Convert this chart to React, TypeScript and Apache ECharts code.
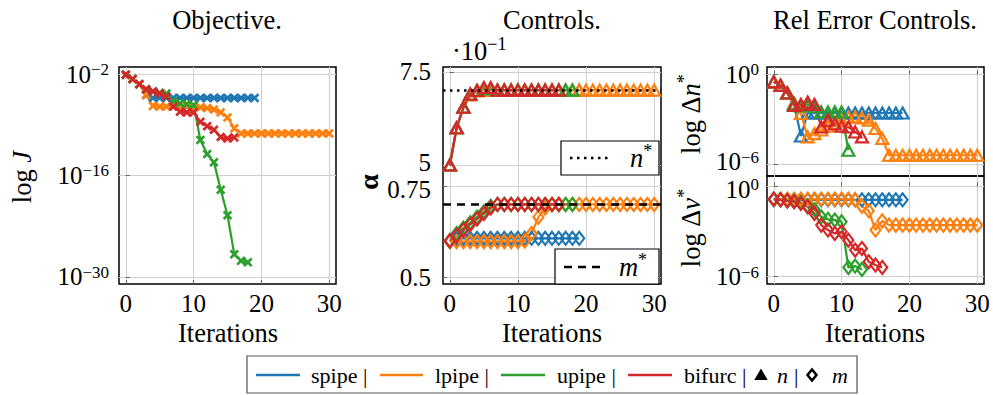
import React, { useEffect, useRef } from "react";
import * as echarts from "echarts";

const FONT = "Liberation Serif";
const C_SPIPE = "#1f77b4";
const C_LPIPE = "#ff7f0e";
const C_UPIPE = "#2ca02c";
const C_BIFURC = "#d62728";

// tick values
const iterTicks = [0, 10, 20, 30];
const objTicks = [-30, -16, -2];
const relTicks = [-6, 0];
const ctrlTicks = [0.5, 0.75];

// Objective: log10 J per iteration
const logJ_spipe = [-2.1, -2.7, -3.4, -4.9, -5.3, -5.3, -5.3, -5.3, -5.3, -5.3, -5.3, -5.3, -5.3, -5.3, -5.3, -5.3, -5.3, -5.3, -5.3, -5.3];
const logJ_lpipe = [-2.1, -2.7, -3.4, -4.9, -6.4, -6.5, -6.5, -6.5, -6.5, -6.5, -6.5, -6.6, -6.7, -6.9, -7.3, -8.0, -9.5, -10.2, -10.2, -10.2, -10.2, -10.2, -10.2, -10.2, -10.2, -10.2, -10.2, -10.2, -10.2, -10.2, -10.2];
const logJ_upipe = [-2.1, -2.7, -3.4, -4.1, -4.4, -4.6, -4.7, -5.8, -6.05, -6.15, -6.3, -11.1, -13.05, -14.2, -18.0, -21.5, -26.9, -27.8, -28.0];
const logJ_bifurc = [-2.1, -2.7, -3.4, -4.1, -4.4, -4.7, -5.1, -6.5, -7.2, -7.3, -7.3, -8.6, -9.2, -9.7, -10.7, -10.9, -10.75];

// Controls: n (shown x 10^-1) and m
const n_spipe = [0.5, 0.6, 0.655, 0.69, 0.7, 0.701, 0.701, 0.701, 0.701, 0.701, 0.701, 0.701, 0.701, 0.701, 0.701, 0.701, 0.701, 0.701, 0.701, 0.701];
const n_lpipe = [0.5, 0.6, 0.655, 0.688, 0.699, 0.701, 0.701, 0.701, 0.701, 0.701, 0.701, 0.701, 0.701, 0.701, 0.701, 0.701, 0.701, 0.701, 0.701, 0.701, 0.701, 0.701, 0.701, 0.701, 0.701, 0.701, 0.701, 0.701, 0.701, 0.701, 0.701];
const n_upipe = [0.5, 0.6, 0.655, 0.69, 0.7, 0.705, 0.705, 0.701, 0.701, 0.701, 0.701, 0.701, 0.701, 0.701, 0.701, 0.701, 0.701, 0.701, 0.701];
const n_bifurc = [0.5, 0.6, 0.655, 0.69, 0.7, 0.708, 0.708, 0.701, 0.701, 0.701, 0.701, 0.701, 0.701, 0.701, 0.701, 0.701, 0.701];
const m_spipe = [0.6, 0.607, 0.607, 0.607, 0.607, 0.607, 0.607, 0.607, 0.607, 0.607, 0.607, 0.607, 0.607, 0.607, 0.607, 0.607, 0.607, 0.607, 0.607, 0.607];
const m_lpipe = [0.598, 0.598, 0.598, 0.598, 0.598, 0.598, 0.598, 0.598, 0.598, 0.598, 0.598, 0.6, 0.62, 0.665, 0.69, 0.7, 0.7, 0.7, 0.7, 0.7, 0.7, 0.7, 0.7, 0.7, 0.7, 0.7, 0.7, 0.7, 0.7, 0.7, 0.7];
const m_upipe = [0.6, 0.62, 0.635, 0.65, 0.665, 0.68, 0.695, 0.7, 0.7, 0.7, 0.7, 0.7, 0.7, 0.7, 0.7, 0.7, 0.7, 0.7, 0.7];
const m_bifurc = [0.6, 0.615, 0.63, 0.645, 0.66, 0.675, 0.69, 0.7, 0.7, 0.7, 0.7, 0.7, 0.7, 0.7, 0.7, 0.7, 0.7];
const nStar = 0.697;
const mStar = 0.7;

// Rel error controls: log10 of relative errors
const dn_spipe = [-0.5, -0.73, -1.24, -2.0, -4.1, -2.57, -2.57, -2.57, -2.57, -2.57, -2.57, -2.57, -2.57, -2.57, -2.57, -2.57, -2.57, -2.57, -2.57, -2.57];
const dn_lpipe = [-0.5, -0.73, -1.24, -1.9, -2.6, -4.16, -3.94, -3.7, -3.45, -3.25, -3.05, -2.85, -2.83, -2.9, -3.05, -3.6, -4.27, -5.38, -5.38, -5.38, -5.38, -5.38, -5.38, -5.38, -5.38, -5.38, -5.38, -5.38, -5.38, -5.38, -5.38];
const dn_upipe = [-0.5, -0.73, -1.24, -1.95, -2.1, -2.0, -2.15, -2.5, -2.5, -2.5, -2.5, -5.05];
const dn_bifurc = [-0.5, -0.73, -1.24, -2.06, -2.0, -1.84, -2.0, -3.5, -3.05, -3.3, -3.45, -3.5, -3.83, -4.16];
const dv_spipe = [-0.88, -0.9, -0.9, -0.9, -0.9, -0.9, -0.9, -0.9, -0.9, -0.9, -0.9, -0.9, -0.9, -0.9, -0.9, -0.9, -0.9, -0.9, -0.9, -0.9];
const dv_lpipe = [-0.86, -0.86, -0.86, -0.86, -0.86, -0.86, -0.86, -0.86, -0.86, -0.86, -0.86, -0.86, -0.9, -1.32, -1.63, -2.91, -2.3, -2.58, -2.58, -2.58, -2.58, -2.58, -2.58, -2.58, -2.58, -2.58, -2.58, -2.58, -2.58, -2.58, -2.58];
const dv_upipe = [-0.86, -0.9, -0.97, -1.0, -1.1, -1.3, -1.55, -2.03, -2.2, -2.25, -2.36, -5.39, -5.3, -5.52];
const dv_bifurc = [-0.86, -0.9, -0.97, -1.03, -1.15, -1.37, -1.81, -2.58, -2.91, -3.13, -3.02, -3.58, -4.24, -4.13, -5.01, -5.23, -5.39];

const toXY = (arr: number[]) => arr.map((v, i) => [i, v]);

const X_MARK = "path://M0,2L2,0L5,3L8,0L10,2L7,5L10,8L8,10L5,7L2,10L0,8L3,5Z";

const TICK_FS = 25;
const LABEL_FS = 26.5;

const bTok = { fontFamily: FONT, fontSize: TICK_FS, lineHeight: 17, color: "#000" };
const sTok = { fontFamily: FONT, fontSize: 17, lineHeight: 9, color: "#000" };
const labelRich = {
  b: { ...bTok },
  s: { ...sTok, padding: [0, 0, 9, 0] },
  bu: { ...bTok, padding: [0, 0, 6, 0] },
  su: { ...sTok, padding: [0, 0, 15, 0] },
  bd: { ...bTok, padding: [6, 0, 0, 0] },
  sd: { ...sTok, padding: [6, 0, 9, 0] },
};
const pow = (v: number, mode = "") =>
  `{b${mode}|10}{s${mode}|${v < 0 ? "\u2212" : ""}${Math.abs(v)}}`;

const GRID_COLOR = "#d0d0d0";

function mkX(gridIndex: number, showLabels: boolean) {
  return {
    type: "value",
    gridIndex,
    min: -1,
    max: 31,
    axisLine: { show: false },
    axisTick: { show: true, inside: true, length: 4, customValues: iterTicks, lineStyle: { color: "#666" } },
    axisLabel: { show: showLabels, customValues: iterTicks, margin: 7, fontFamily: FONT, fontSize: TICK_FS, color: "#000" },
    splitLine: { show: true, lineStyle: { color: GRID_COLOR, width: 1 } },
  };
}

function mkY(gridIndex: number, min: number, max: number, ticks: number[], formatter: any, margin: number) {
  return {
    type: "value",
    gridIndex,
    position: "left",
    min,
    max,
    axisLine: { show: false },
    axisTick: { show: true, inside: true, length: 4, customValues: ticks, lineStyle: { color: "#666" } },
    axisLabel: {
      customValues: ticks,
      margin,
      formatter,
      fontFamily: FONT,
      fontSize: TICK_FS,
      lineHeight: 17,
      color: "#000",
      rich: labelRich,
    },
    splitLine: { show: true, lineStyle: { color: GRID_COLOR, width: 1 } },
  };
}

function mkSeries(data: number[], color: string, xi: number, yi: number, kind: "x" | "tri" | "dia") {
  const symbol = kind === "x" ? X_MARK : kind === "tri" ? "triangle" : "diamond";
  const symbolSize = kind === "x" ? 9.5 : kind === "tri" ? [12, 11] : [10, 13];
  return {
    type: "line",
    xAxisIndex: xi,
    yAxisIndex: yi,
    data: toXY(data),
    symbol,
    symbolSize,
    showSymbol: true,
    silent: true,
    lineStyle: { color, width: 2.2 },
    itemStyle:
      kind === "x"
        ? { color, borderWidth: 0 }
        : { color: "rgba(255,255,255,0)", borderColor: color, borderWidth: 2.2 },
    emphasis: { disabled: true },
  };
}

function txt(x: number, y: number, text: string, size = LABEL_FS, extra: any = {}, rotation = 0) {
  return {
    type: "text",
    x,
    y,
    rotation,
    z: 100,
    style: {
      text,
      fontFamily: FONT,
      fontSize: size,
      fill: "#000",
      align: "center",
      verticalAlign: "middle",
      ...extra,
    },
  };
}

const richBase = {
  r: { fontFamily: FONT, fontSize: LABEL_FS, fill: "#000" },
  i: { fontFamily: FONT, fontSize: LABEL_FS, fontStyle: "italic", fill: "#000" },
  s: { fontFamily: FONT, fontSize: 18, fill: "#000", padding: [0, 0, 14, 0] },
};

export default function App() {
  const ref = useRef<HTMLDivElement>(null);

  useEffect(() => {
    if (!ref.current) return;
    const chart = echarts.init(ref.current, null, { renderer: "svg" });

    const grids = [
      { left: 119, top: 67, width: 217, height: 217 },
      { left: 443, top: 67, width: 218, height: 217 },
      { left: 767, top: 67, width: 217, height: 109 },
      { left: 767, top: 176, width: 217, height: 108 },
    ].map((g) => ({ ...g, show: true, borderColor: "#000", borderWidth: 1.5, backgroundColor: "transparent" }));

    const starLine = (yi: number, value: number, type: any) => ({
      type: "line",
      xAxisIndex: 1,
      yAxisIndex: yi,
      data: [],
      silent: true,
      markLine: {
        silent: true,
        symbol: ["none", "none"],
        label: { show: false },
        lineStyle: { color: "#000", type, width: 2.5 },
        data: [{ yAxis: value }],
      },
    });

    const series: any[] = [
      mkSeries(logJ_spipe, C_SPIPE, 0, 0, "x"),
      mkSeries(logJ_lpipe, C_LPIPE, 0, 0, "x"),
      mkSeries(logJ_upipe, C_UPIPE, 0, 0, "x"),
      mkSeries(logJ_bifurc, C_BIFURC, 0, 0, "x"),
      starLine(1, nStar, [2.5, 4.5]),
      starLine(2, mStar, [8, 6]),
      mkSeries(n_spipe, C_SPIPE, 1, 1, "tri"),
      mkSeries(n_lpipe, C_LPIPE, 1, 1, "tri"),
      mkSeries(n_upipe, C_UPIPE, 1, 1, "tri"),
      mkSeries(n_bifurc, C_BIFURC, 1, 1, "tri"),
      mkSeries(m_spipe, C_SPIPE, 1, 2, "dia"),
      mkSeries(m_lpipe, C_LPIPE, 1, 2, "dia"),
      mkSeries(m_upipe, C_UPIPE, 1, 2, "dia"),
      mkSeries(m_bifurc, C_BIFURC, 1, 2, "dia"),
      mkSeries(dn_spipe, C_SPIPE, 2, 3, "tri"),
      mkSeries(dn_lpipe, C_LPIPE, 2, 3, "tri"),
      mkSeries(dn_upipe, C_UPIPE, 2, 3, "tri"),
      mkSeries(dn_bifurc, C_BIFURC, 2, 3, "tri"),
      mkSeries(dv_spipe, C_SPIPE, 3, 4, "dia"),
      mkSeries(dv_lpipe, C_LPIPE, 3, 4, "dia"),
      mkSeries(dv_upipe, C_UPIPE, 3, 4, "dia"),
      mkSeries(dv_bifurc, C_BIFURC, 3, 4, "dia"),
    ];

    const graphic: any[] = [
      // titles
      txt(227, 20, "Objective."),
      txt(552, 20, "Controls."),
      txt(875, 20, "Rel Error Controls."),
      // x labels
      txt(228, 333, "Iterations"),
      txt(552, 333, "Iterations"),
      txt(875, 333, "Iterations"),
      // y labels
      txt(22, 177, "{r|log }{i|J}", LABEL_FS, { rich: richBase }, Math.PI / 2),
      txt(368, 182, "\u03b1", 28, { fontWeight: "bold" }, Math.PI / 2),
      txt(691, 114, "{r|log \u0394}{i|n}{s|*}", LABEL_FS, { rich: richBase }, Math.PI / 2),
      txt(691, 228, "{r|log \u0394}{i|\u03bd}{s|*}", LABEL_FS, { rich: richBase }, Math.PI / 2),
      // scale factor
      txt(452, 51, "{r|\u00b710}{s|\u22121}", LABEL_FS, { rich: richBase, align: "left" }),
      // n* box
      { type: "rect", z: 100, shape: { x: 561, y: 141, width: 98, height: 34 }, style: { fill: "#fff", stroke: "#000", lineWidth: 1.2 } },
      { type: "line", z: 101, shape: { x1: 570, y1: 158, x2: 608, y2: 158 }, style: { stroke: "#000", lineWidth: 2.5, lineDash: [2.5, 4.5] } },
      txt(641, 158, "{i|n}{s|*}", LABEL_FS, { rich: richBase }),
      // m* box
      { type: "rect", z: 100, shape: { x: 555, y: 249, width: 104, height: 35 }, style: { fill: "#fff", stroke: "#000", lineWidth: 1.2 } },
      { type: "line", z: 101, shape: { x1: 564, y1: 267, x2: 602, y2: 267 }, style: { stroke: "#000", lineWidth: 2.5, lineDash: [8, 6] } },
      txt(633, 267, "{i|m}{s|*}", LABEL_FS, { rich: richBase }),
      // bottom legend
      { type: "rect", z: 100, shape: { x: 247, y: 356, width: 610, height: 37 }, style: { fill: "#fff", stroke: "#555", lineWidth: 1.2 } },
      { type: "line", z: 101, shape: { x1: 256, y1: 375, x2: 300, y2: 375 }, style: { stroke: C_SPIPE, lineWidth: 2.5 } },
      txt(311, 375, "spipe |", 22, { align: "left" }),
      { type: "line", z: 101, shape: { x1: 380, y1: 375, x2: 423, y2: 375 }, style: { stroke: C_LPIPE, lineWidth: 2.5 } },
      txt(435, 375, "lpipe |", 22, { align: "left" }),
      { type: "line", z: 101, shape: { x1: 501, y1: 375, x2: 545, y2: 375 }, style: { stroke: C_UPIPE, lineWidth: 2.5 } },
      txt(557, 375, "upipe |", 22, { align: "left" }),
      { type: "line", z: 101, shape: { x1: 628, y1: 375, x2: 672, y2: 375 }, style: { stroke: C_BIFURC, lineWidth: 2.5 } },
      txt(684, 375, "bifurc |", 22, { align: "left" }),
      { type: "polygon", z: 101, shape: { points: [[756, 379], [766, 379], [761, 370.5]] }, style: { fill: "#000", stroke: "#000", lineWidth: 2, lineJoin: "miter" } },
      txt(777, 375, "n", 22, { align: "left", fontStyle: "italic" }),
      txt(794, 375, "|", 22, { align: "left" }),
      { type: "polygon", z: 101, shape: { points: [[812, 369.5], [816.5, 375], [812, 380.5], [807.5, 375]] }, style: { fill: "none", stroke: "#000", lineWidth: 2.5 } },
      txt(832, 375, "m", 22, { align: "left", fontStyle: "italic" }),
    ];

    chart.setOption({
      animation: false,
      backgroundColor: "#fff",
      textStyle: { fontFamily: FONT },
      grid: grids,
      xAxis: [mkX(0, true), mkX(1, true), mkX(2, false), mkX(3, true)],
      yAxis: [
        mkY(0, -31, -1.03, objTicks, (v: number) => pow(v), 10),
        mkY(1, 0.181, 0.763, ctrlTicks, (v: number) => (v === 0.5 ? "{bu|5}" : "{b|7.5}"), 12),
        mkY(1, 0.4817, 1.077, ctrlTicks, (v: number) => (v === 0.75 ? "{bd|0.75}" : "{b|0.5}"), 12),
        mkY(2, -6.76, 0.49, relTicks, (v: number) => (v === -6 ? pow(v, "u") : pow(v)), 8),
        mkY(3, -6.49, 0.68, relTicks, (v: number) => (v === 0 ? pow(v, "d") : pow(v)), 8),
      ],
      series,
      graphic,
    });

    return () => chart.dispose();
  }, []);

  return (
    <div
      ref={ref}
      style={{ position: "fixed", left: 0, top: 0, width: 993, height: 395, background: "#fff" }}
    />
  );
}
